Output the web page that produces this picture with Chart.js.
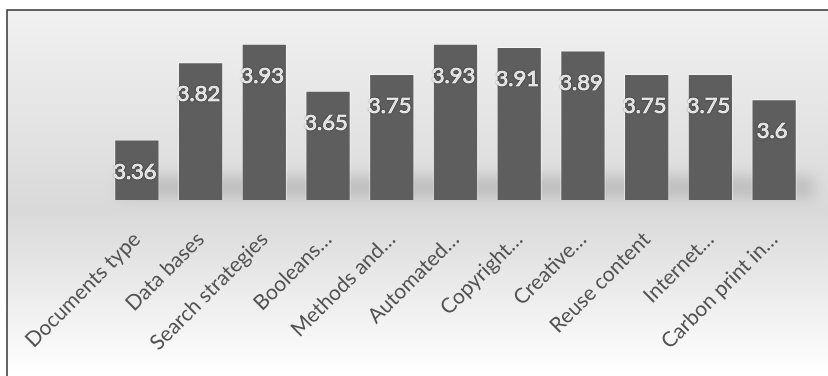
<!DOCTYPE html>
<html>
<head>
<meta charset="utf-8">
<script src="https://cdn.jsdelivr.net/npm/chart.js@4.4.1/dist/chart.umd.min.js"></script>
<style>
  html, body { margin: 0; padding: 0; background: #fff; }
</style>
</head>
<body>
<canvas id="myChart" width="828" height="376"></canvas>
<script>
const categories = [
  "Documents type", "Data bases", "Search strategies", "Booleans\u2026",
  "Methods and\u2026", "Automated\u2026", "Copyright\u2026", "Creative\u2026",
  "Reuse content", "Internet\u2026", "Carbon print in\u2026"
];
const scores = [3.36, 3.82, 3.93, 3.65, 3.75, 3.93, 3.91, 3.89, 3.75, 3.75, 3.6];
const yMin = 3;
const yMax = 4;

// grey gradient panel with a frame on the top and left, plus soft floor shadow
const backdrop = {
  id: "backdrop",
  beforeDraw(chart) {
    const { ctx, width, height, chartArea } = chart;
    ctx.save();
    const g = ctx.createLinearGradient(0, 10, 0, height);
    g.addColorStop(0, "#f1f1f1");
    g.addColorStop(0.55, "#d9d9d9");
    g.addColorStop(1, "#ffffff");
    ctx.fillStyle = g;
    ctx.fillRect(7, 10, width - 7, height - 10);

    ctx.filter = "blur(7px)";
    ctx.fillStyle = "rgba(0,0,0,0.13)";
    ctx.fillRect(chartArea.left + 14, chartArea.bottom - 24, chartArea.width - 6, 22);
    ctx.filter = "none";

    ctx.strokeStyle = "#333";
    ctx.lineWidth = 1.5;
    ctx.beginPath();
    ctx.moveTo(7, height);
    ctx.lineTo(7, 10);
    ctx.lineTo(width, 10);
    ctx.stroke();
    ctx.restore();
  }
};

// white value text inside the top of each bar
const valueText = {
  id: "valueText",
  afterDatasetsDraw(chart) {
    const { ctx } = chart;
    const meta = chart.getDatasetMeta(0);
    ctx.save();
    ctx.font = "22px Lato";
    ctx.textAlign = "center";
    ctx.textBaseline = "middle";
    ctx.fillStyle = "#ffffff";
    ctx.strokeStyle = "#ffffff";
    ctx.lineWidth = 0.7;
    ctx.shadowColor = "rgba(0,0,0,0.45)";
    ctx.shadowBlur = 2;
    meta.data.forEach((bar, i) => {
      const label = String(scores[i]);
      ctx.fillText(label, bar.x - 2, bar.y + 32);
      ctx.strokeText(label, bar.x - 2, bar.y + 32);
    });
    ctx.restore();
  }
};

const config = {
  type: "bar",
  data: {
    labels: categories,
    datasets: [
      {
        data: scores,
        backgroundColor: "#5e5e5e",
        borderColor: "rgba(255,255,255,0.55)",
        borderWidth: 1,
        barPercentage: 0.71,
        categoryPercentage: 1,
      },
    ],
  },
  options: {
    responsive: false,
    animation: false,
    devicePixelRatio: 1,
    layout: {
      padding: { top: 32, left: 105, right: 22, bottom: 0 },
    },
    plugins: {
      legend: { display: false },
      tooltip: { enabled: false },
    },
    scales: {
      x: {
        grid: { display: false, drawTicks: false },
        border: { display: false },
        ticks: {
          minRotation: 45,
          maxRotation: 45,
          padding: 27,
          color: "#525252",
          font: { family: "Lato", size: 21 },
        },
        afterFit(scale) {
          scale.height = 176;
          scale.paddingLeft = 0;
          scale.paddingRight = 0;
        },
      },
      y: {
        display: false,
        min: yMin,
        max: yMax,
      },
    },
  },
  plugins: [backdrop, valueText],
};

document.addEventListener("DOMContentLoaded", () => {
  const ctx = document.getElementById("myChart").getContext("2d");
  new Chart(ctx, config);
});
</script>
</body>
</html>
